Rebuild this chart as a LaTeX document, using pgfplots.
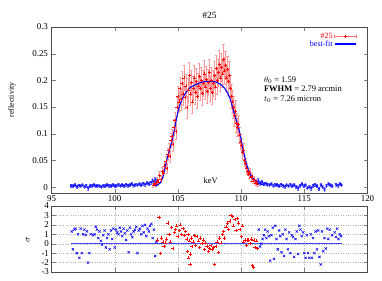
\documentclass[border=0pt]{standalone}
\usepackage{pgfplots}
\pgfplotsset{compat=1.18}
\usepackage{pgfplotstable}
\usepackage{fontspec}
\setmainfont{Liberation Serif}

\pgfplotstableread{
x y e
103.05 0.004 0.004
103.15 0.008 0.005
103.25 0.006 0.004
103.35 0.012 0.006
103.45 0.010 0.005
103.55 0.022 0.007
103.65 0.015 0.006
103.75 0.030 0.008
103.85 0.026 0.008
103.95 0.040 0.009
104.05 0.048 0.010
104.12 0.035 0.009
104.20 0.062 0.011
104.28 0.070 0.012
104.36 0.058 0.011
104.44 0.088 0.013
104.52 0.095 0.014
104.60 0.080 0.013
104.68 0.112 0.015
104.76 0.125 0.016
104.84 0.105 0.015
104.92 0.150 0.018
105.00 0.170 0.020
105.08 0.160 0.019
105.16 0.185 0.021
105.24 0.165 0.020
105.32 0.195 0.022
105.40 0.175 0.021
105.48 0.205 0.023
105.56 0.168 0.021
105.64 0.190 0.022
105.72 0.150 0.020
105.80 0.182 0.022
105.88 0.210 0.024
105.96 0.175 0.022
106.04 0.196 0.023
106.12 0.160 0.021
106.20 0.185 0.023
106.28 0.205 0.024
106.36 0.178 0.022
106.44 0.198 0.024
106.52 0.170 0.022
106.60 0.190 0.023
106.68 0.208 0.024
106.76 0.185 0.023
106.84 0.200 0.024
106.92 0.176 0.023
107.00 0.195 0.024
107.08 0.212 0.025
107.16 0.188 0.024
107.24 0.202 0.024
107.32 0.180 0.023
107.40 0.196 0.024
107.48 0.215 0.025
107.56 0.185 0.024
107.64 0.200 0.024
107.72 0.178 0.023
107.80 0.195 0.024
107.88 0.210 0.025
107.96 0.188 0.024
108.04 0.222 0.026
108.12 0.200 0.025
108.20 0.215 0.025
108.28 0.230 0.026
108.36 0.205 0.025
108.44 0.225 0.026
108.52 0.212 0.025
108.60 0.240 0.027
108.68 0.218 0.026
108.76 0.228 0.026
108.84 0.205 0.025
108.92 0.220 0.026
109.00 0.198 0.025
109.08 0.210 0.025
109.16 0.185 0.024
109.24 0.170 0.023
109.32 0.160 0.022
109.40 0.150 0.021
109.48 0.135 0.020
109.56 0.142 0.020
109.64 0.120 0.018
109.72 0.112 0.017
109.80 0.118 0.017
109.88 0.098 0.015
109.96 0.085 0.014
110.04 0.078 0.013
110.12 0.065 0.012
110.20 0.070 0.012
110.28 0.050 0.010
110.36 0.045 0.010
110.44 0.036 0.009
110.52 0.030 0.008
110.60 0.024 0.007
110.68 0.028 0.007
110.76 0.018 0.006
110.84 0.020 0.006
110.92 0.012 0.005
111.00 0.015 0.005
111.10 0.008 0.004
111.20 0.010 0.004
111.30 0.006 0.004
}\reddata

\pgfplotstableread{
x y e
96.55 0.003 0.003
96.70 0.002 0.003
96.85 0.004 0.003
97.00 0.001 0.003
97.15 0.003 0.003
97.30 0.002 0.003
97.45 0.004 0.003
97.60 0.001 0.003
97.75 0.003 0.003
97.90 -0.002 0.003
98.05 0.002 0.003
98.20 0.003 0.003
98.35 0.004 0.003
98.50 0.002 0.003
98.65 0.003 0.003
98.80 0.002 0.003
98.95 0.001 0.003
99.10 0.003 0.003
99.25 0.002 0.003
99.40 0.004 0.003
99.55 0.003 0.003
99.70 0.002 0.003
99.85 0.004 0.003
100.00 0.002 0.003
100.15 0.003 0.003
100.30 0.005 0.003
100.45 0.003 0.003
100.60 0.004 0.003
100.75 0.002 0.003
100.90 0.005 0.003
101.05 0.003 0.003
101.20 0.004 0.003
101.35 0.006 0.003
101.50 0.003 0.003
101.65 0.005 0.003
101.80 0.004 0.003
101.95 0.006 0.003
102.10 0.004 0.003
102.25 0.007 0.003
102.40 0.005 0.003
102.55 0.008 0.003
102.70 0.006 0.003
102.85 0.009 0.003
103.00 0.012 0.004
103.10 0.007 0.004
103.20 0.014 0.004
103.30 0.010 0.004
111.35 0.012 0.004
111.50 0.008 0.004
111.65 0.010 0.003
111.80 0.006 0.003
111.95 0.007 0.003
112.10 0.005 0.003
112.25 0.004 0.003
112.40 0.006 0.003
112.55 0.003 0.003
112.70 0.005 0.003
112.85 0.004 0.003
113.00 0.002 0.003
113.15 0.005 0.003
113.30 0.003 0.003
113.45 0.001 0.003
113.60 0.004 0.003
113.75 0.002 0.003
113.90 0.005 0.003
114.05 0.002 0.003
114.20 0.004 0.003
114.35 0.001 0.003
114.50 -0.002 0.003
114.65 0.003 0.003
114.80 0.006 0.003
114.95 0.002 0.003
115.10 0.004 0.003
115.25 -0.001 0.003
115.40 0.001 0.003
115.55 -0.002 0.003
115.70 0.003 0.003
115.85 0.005 0.003
116.00 0.002 0.003
116.15 -0.003 0.003
116.30 0.004 0.003
116.45 0.001 0.003
116.60 -0.004 0.003
116.75 0.003 0.003
116.90 0.006 0.003
117.05 0.004 0.003
117.20 0.002 0.003
117.50 0.005 0.003
117.65 0.003 0.003
117.80 0.006 0.003
117.95 0.004 0.003
}\bluedata

\pgfplotstableread{
x y
103.2 0.002
103.4 0.004
103.6 0.008
103.8 0.018
104.0 0.038
104.2 0.058
104.4 0.075
104.6 0.094
104.8 0.117
105.0 0.141
105.2 0.157
105.4 0.168
105.6 0.176
105.8 0.182
106.0 0.187
106.4 0.192
106.8 0.196
107.2 0.198
107.6 0.198
108.0 0.197
108.4 0.192
108.7 0.185
109.0 0.173
109.2 0.160
109.4 0.143
109.6 0.127
109.8 0.111
110.0 0.090
110.2 0.066
110.4 0.046
110.6 0.030
110.8 0.021
111.0 0.015
111.2 0.010
111.5 0.006
111.8 0.004
}\fitdata

\pgfplotstableread{
x y
96.6 1.3
96.7 -0.6
96.8 1.5
96.9 1.6
97.0 -1.0
97.1 1.0
97.2 -1.5
97.3 1.6
97.4 -1.0
97.5 1.0
97.6 1.5
97.7 0.9
97.8 1.3
97.9 -2.0
98.0 -1.0
98.1 1.0
98.3 0.9
98.4 1.0
98.5 1.8
98.6 1.5
98.7 0.6
98.8 1.3
98.9 0.3
99.0 -0.1
99.1 0.9
99.2 1.4
99.3 -0.4
99.4 0.6
99.5 1.0
99.6 -0.6
99.7 1.4
99.8 0.5
99.9 1.6
100.0 -0.4
100.1 1.5
100.2 1.2
100.3 1.0
100.4 1.7
100.5 1.3
100.6 0.8
100.7 1.6
100.8 1.1
100.9 0.4
101.0 1.4
101.1 -0.9
101.2 1.7
101.3 1.0
101.4 0.7
101.5 1.3
101.6 1.5
101.7 1.8
101.8 -1.0
101.9 1.4
102.0 1.6
102.1 1.0
102.2 1.9
102.3 1.2
102.4 2.0
102.5 0.8
102.6 1.6
102.7 1.3
102.8 1.9
102.9 2.1
103.0 0.6
103.1 1.5
103.2 -1.3
103.3 0.2
111.4 1.5
111.5 -0.3
111.6 0.0
111.7 0.5
111.8 0.9
111.9 1.5
112.0 0.6
112.1 1.3
112.2 0.8
112.3 -1.8
112.4 0.9
112.5 1.7
112.6 -1.6
112.7 1.9
112.8 0.5
112.9 -0.6
113.0 1.4
113.1 0.8
113.2 -0.9
113.3 1.0
113.4 -1.3
113.5 1.5
113.6 0.5
113.7 -0.6
113.8 1.2
113.9 -1.0
114.0 0.9
114.1 0.7
114.2 -1.4
114.3 0.5
114.4 1.3
114.5 -1.1
114.6 1.9
114.7 1.5
114.8 0.8
114.9 1.2
115.0 -1.0
115.1 -1.5
115.2 0.9
115.3 -1.0
115.4 -1.5
115.5 1.0
115.6 -1.5
115.7 0.6
115.8 -1.0
115.9 1.3
116.0 -0.6
116.1 1.4
116.2 -1.4
116.3 -2.2
116.4 1.3
116.5 -0.8
116.6 0.6
116.7 -0.5
116.8 1.6
116.9 0.5
117.0 1.5
117.2 0.9
117.4 1.2
117.5 0.7
117.6 1.6
117.7 0.5
117.8 1.0
117.9 0.8
}\blueres

\pgfplotstableread{
x y
103.4 0.4
103.5 2.8
103.6 -1.0
103.7 0.6
103.8 0.2
103.9 -0.3
104.0 0.1
104.1 0.5
104.2 2.2
104.3 1.0
104.4 0.2
104.5 1.7
104.6 -0.5
104.7 1.2
104.8 1.5
104.9 1.9
105.0 0.8
105.1 1.4
105.2 2.0
105.3 1.0
105.4 1.6
105.5 0.9
105.6 1.3
105.7 0.5
105.75 -0.8
105.8 1.0
105.85 -1.5
105.9 0.3
105.95 -2.2
106.0 -1.1
106.05 0.6
106.1 -0.3
106.2 0.2
106.3 0.9
106.4 -0.2
106.5 0.8
106.6 0.3
106.7 -0.4
106.8 0.6
106.9 0.0
107.0 0.4
107.1 -0.6
107.2 0.1
107.3 -0.3
107.4 -0.8
107.5 -0.5
107.6 -0.2
107.7 -0.6
107.8 -0.4
107.9 -2.2
108.0 -0.3
108.1 0.2
108.2 -0.9
108.3 0.6
108.4 0.1
108.5 1.0
108.6 1.3
108.7 0.6
108.8 1.8
108.9 2.2
109.0 1.5
109.1 2.4
109.2 3.0
109.3 2.9
109.4 1.9
109.5 2.6
109.6 1.4
109.7 2.7
109.8 2.2
109.9 1.5
110.0 0.8
110.1 1.9
110.2 0.2
110.3 0.4
110.4 -0.2
110.5 0.4
110.6 0.4
110.7 0.0
110.8 0.5
110.9 -2.3
110.95 -2.5
111.0 0.4
111.1 -0.4
111.2 0.3
111.3 -0.5
}\redres

\begin{document}
\begin{tikzpicture}
\path[use as bounding box] (0,0) rectangle (382bp,281bp);
\begin{axis}[
  at={(51.5bp,88bp)}, anchor=south west,
  scale only axis, width=316bp, height=166bp,
  xmin=95, xmax=120, ymin=-0.011, ymax=0.3,
  xtick={95,100,...,120}, ytick={0,0.05,...,0.3},
  tick align=inside, major tick length=4bp,
  yticklabel style={/pgf/number format/fixed,/pgf/number format/precision=2},
  /pgf/number format/assume math mode=true,
  ticklabel style={font=\fontsize{9}{10}\selectfont},
  xticklabel style={yshift=1bp},
  axis line style={black!70},
  legend style={at={(axis description cs:0.975,0.985)}, anchor=north east,
    draw=none, fill=none, font=\fontsize{8}{9}\selectfont, row sep=-2.5pt,
    nodes={inner sep=1.5pt}},
  legend cell align=right, legend plot pos=right,
]
\addplot[forget plot, only marks, mark=x, blue, mark size=1.5pt, line width=0.55pt,
  error bars/.cd, y dir=both, y explicit,
  error bar style={blue!60, line width=0.3pt},
  error mark options={rotate=90, mark size=0.8pt, blue!60}]
  table[x=x, y=y, y error=e] {\bluedata};
\addplot[forget plot, only marks, mark=+, red, mark size=1.5pt, line width=0.4pt,
  error bars/.cd, y dir=both, y explicit,
  error bar style={red!40, line width=0.35pt},
  error mark options={rotate=90, mark size=1.1pt, red!40}]
  table[x=x, y=y, y error=e] {\reddata};
\addplot[forget plot, blue, line width=1.1pt, smooth] table[x=x,y=y] {\fitdata};
\addlegendimage{legend image code/.code={
  \draw[red!55, line width=0.4pt] (0cm,0cm) -- (0.75cm,0cm) (0cm,-1.6pt) -- (0cm,1.6pt) (0.75cm,-1.6pt) -- (0.75cm,1.6pt);
  \draw[red, line width=0.4pt] (0.375cm,-1.6pt) -- (0.375cm,1.6pt) (0.375cm,0cm) ++(-1.6pt,0) -- ++(3.2pt,0);}}
\addlegendentry{\textcolor{red}{\#25}}
\addlegendimage{legend image code/.code={\draw[blue, line width=1.1pt] (0cm,0cm) -- (0.75cm,0cm);}}
\addlegendentry{\textcolor{blue}{best-fit}}
\node[anchor=north west, align=left, font=\fontsize{8.5}{9.5}\selectfont, inner sep=0pt]
  at (axis cs:111.8,0.207) {$\theta_0$ = 1.59\\ \textbf{FWHM} = 2.79 arcmin\\ $t_0$ = 7.26 micron};
\node[font=\fontsize{8.5}{9}\selectfont, anchor=south] at (axis cs:107.6,0.0) {keV};
\end{axis}
\node[font=\fontsize{9.5}{10}\selectfont] at (209.5bp,266bp) {\#25};
\node[font=\fontsize{8}{9}\selectfont, rotate=90] at (12bp,181bp) {reflectivity};
\node[font=\fontsize{9}{10}\selectfont, rotate=90] at (28bp,41bp) {$\sigma$};
\begin{axis}[
  at={(51.5bp,9bp)}, anchor=south west,
  scale only axis, width=316bp, height=66bp,
  xmin=95, xmax=120, ymin=-3, ymax=4,
  xtick={95,100,...,120}, ytick={-3,-2,...,4},
  xticklabels={},
  tick align=inside, major tick length=4bp,
  /pgf/number format/assume math mode=true,
  ticklabel style={font=\fontsize{9}{10}\selectfont},
  yticklabel style={xshift=1bp},
  grid=major, grid style={dotted, black!30},
  axis line style={black!70},
]
\addplot[only marks, mark=x, blue, mark size=1.6pt, line width=0.55pt] table[x=x,y=y] {\blueres};
\addplot[only marks, mark=+, red, mark size=1.6pt, line width=0.45pt] table[x=x,y=y] {\redres};
\addplot[draw={rgb,255:red,70;green,70;blue,255}, solid, line width=1pt, mark=none] table[x=x,y=y] {
x y
96.55 0
118 0
};
\end{axis}
\end{tikzpicture}
\end{document}
